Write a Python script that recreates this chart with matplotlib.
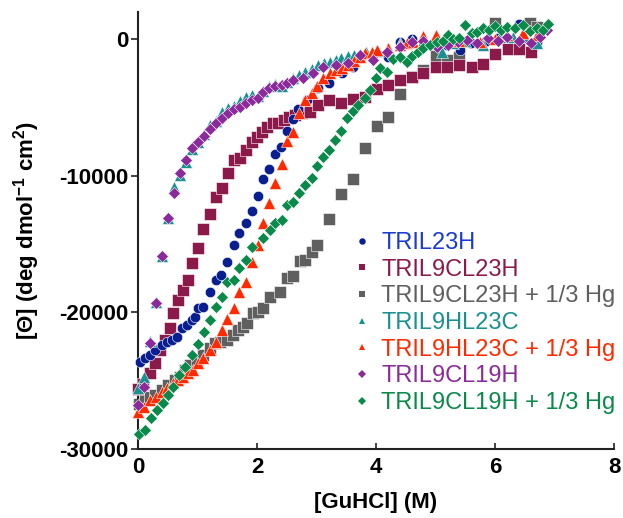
import matplotlib
matplotlib.use("Agg")
import matplotlib.pyplot as plt
from matplotlib.lines import Line2D

plt.rcParams['font.family'] = ['Liberation Sans', 'DejaVu Sans']
plt.rcParams['axes.unicode_minus'] = False
plt.rcParams['mathtext.fontset'] = 'custom'
plt.rcParams['mathtext.rm'] = 'Liberation Sans:bold'
plt.rcParams['mathtext.bf'] = 'Liberation Sans:bold'
plt.rcParams['mathtext.default'] = 'rm'

# ---------------- data ----------------
labels = ["TRIL23H", "TRIL9CL23H", "TRIL9CL23H + 1/3 Hg", "TRIL9HL23C",
          "TRIL9HL23C + 1/3 Hg", "TRIL9CL19H", "TRIL9CL19H + 1/3 Hg"]

x_a = [0.03,0.12,0.20,0.29,0.40,0.49,0.57,0.66,0.74,0.82,0.91,0.96,1.01,1.09,1.21,1.31,1.39,1.50,1.61,1.70,
       1.82,1.92,2.02,2.10,2.20,2.30,2.40,2.50,2.61,2.69,2.84,3.03,3.21,3.43,3.61,4.20,4.40,4.60,4.80,5.19,
       5.41,5.60,5.85,6.05,6.40,6.70]
y_a = [-23630,-23340,-23120,-22760,-22390,-22170,-22020,-21800,-21150,-20930,-20560,-20340,-19680,-19610,
       -18510,-17630,-17270,-16320,-15070,-14200,-13460,-12590,-11490,-10240,-9510,-8410,-7900,-6730,-5850,
       -5120,-4460,-3590,-3220,-2490,-2050,-1320,-200,0,-300,-440,-800,-300,-100,100,1100,-230]

x_b = [0.0,0.08,0.20,0.29,0.37,0.45,0.54,0.59,0.67,0.76,0.84,0.91,1.01,1.09,1.21,1.31,1.41,1.51,1.61,1.71,
       1.82,1.92,2.00,2.08,2.17,2.27,2.35,2.45,2.54,2.64,2.76,2.89,3.03,3.21,3.41,3.61,3.82,4.02,4.20,4.40,
       4.60,4.79,5.01,5.20,5.39,5.61,5.80,6.00,6.22,6.40,6.60]
y_b = [-25600,-25240,-24440,-23700,-22760,-22020,-21150,-20050,-19100,-18370,-17630,-16390,-15290,-13900,
       -12800,-11560,-10900,-9800,-8850,-8710,-8120,-7540,-7170,-6800,-6440,-6150,-6150,-5930,-5710,-5560,
       -5410,-5340,-4830,-4460,-4680,-4390,-4240,-3660,-3370,-3000,-2780,-2490,-2050,-2000,-1900,-2050,-1830,
       -1100,-730,-730,-950]

x_c = [0.02,0.12,0.20,0.29,0.40,0.50,0.62,0.71,0.79,0.87,0.99,1.09,1.21,1.29,1.38,1.50,1.60,1.68,1.76,1.83,
       1.93,2.02,2.10,2.22,2.39,2.50,2.61,2.72,2.81,2.92,3.00,3.21,3.41,3.61,3.82,4.02,4.20,4.40,4.60,4.79,
       5.01,5.19,5.39,6.00,6.59,6.70]
y_c = [-26700,-26410,-26190,-26040,-25680,-25320,-24950,-24730,-24220,-23850,-23490,-23120,-22610,-22240,
       -22170,-22020,-21660,-21290,-21070,-20780,-20050,-19970,-19680,-18880,-18510,-17490,-17340,-16240,
       -16170,-15580,-15070,-13170,-11340,-10240,-7980,-6370,-5710,-4020,-2780,-2270,-1240,-1540,-1320,1170,
       1170,880]

x_d = [0.0,0.10,0.20,0.30,0.40,0.50,0.61,0.71,0.81,0.91,1.01,1.11,1.21,1.31,1.41,1.51,1.61,1.71,1.82,1.92,
       2.02,2.10,2.20,2.30,2.42,2.50,2.61,2.71,2.81,2.92,3.02,3.12,3.22,3.32,3.42,3.53,3.63,3.73,3.83,3.93,
       4.03,4.20,4.40,4.60,4.79,5.11,5.30,5.50,5.80,6.08,6.30,6.50,6.70]
y_d = [-25530,-24730,-22100,-19250,-15900,-13050,-10850,-9900,-8950,-8000,-7500,-6950,-6250,-6000,-5300,
       -5050,-4900,-4550,-4250,-4050,-4150,-3750,-3450,-3250,-3450,-3100,-2800,-2600,-2400,-2200,-1900,-1750,
       -1650,-1550,-1400,-1250,-1150,-1050,-950,-900,-850,-650,-300,-150,-100,-950,-300,-100,-400,150,200,150,
       -300]

x_e = [0.0,0.10,0.20,0.30,0.40,0.49,0.59,0.67,0.76,0.84,0.92,1.01,1.09,1.21,1.31,1.41,1.50,1.61,1.70,1.82,
       1.92,2.02,2.10,2.20,2.30,2.42,2.50,2.61,2.71,2.81,2.92,3.01,3.11,3.23,3.33,3.43,3.53,3.63,3.73,3.82,
       3.93,4.02,4.20,4.40,4.52,4.62,4.79,5.01,5.21,5.40,5.75,6.00,6.20,6.47,6.70]
y_e = [-27300,-26930,-26410,-26190,-25830,-25540,-25170,-24950,-24730,-24440,-24220,-23710,-23340,-22760,
       -22170,-21290,-20490,-19680,-18510,-17780,-16320,-15070,-13460,-12000,-10540,-9150,-7460,-6800,-5410,
       -4460,-3950,-3440,-2850,-2490,-2270,-2120,-1900,-1600,-1320,-1020,-950,-800,-660,-440,-290,-220,220,
       290,-70,-100,-220,0,300,440,300]

x_f = [0.0,0.10,0.20,0.30,0.40,0.50,0.61,0.71,0.81,0.91,1.01,1.11,1.21,1.31,1.41,1.51,1.61,1.71,1.82,1.92,
       2.02,2.10,2.20,2.30,2.42,2.50,2.61,2.77,2.94,3.11,3.32,3.53,3.73,3.95,4.18,4.40,4.60,4.79,5.03,5.21,
       5.38,5.53,5.70,5.88,6.05,6.20,6.40,6.60,6.76,6.87]
y_f = [-26780,-25460,-22240,-19320,-15880,-13100,-11270,-9800,-8850,-7980,-7540,-7100,-6590,-6150,-5780,
       -5410,-5120,-4980,-4680,-4460,-4320,-3880,-3590,-3440,-3370,-3220,-3000,-2850,-2500,-2050,-1900,-1760,
       -1170,-1540,-950,-590,-220,-100,-590,-440,-220,-70,-300,70,-100,150,-100,-300,150,660]

x_g = [0.02,0.12,0.22,0.32,0.42,0.50,0.59,0.69,0.79,0.91,1.01,1.11,1.21,1.31,1.41,1.50,1.61,1.70,1.82,1.92,
       2.10,2.22,2.30,2.42,2.50,2.61,2.71,2.81,2.92,3.01,3.11,3.21,3.31,3.41,3.51,3.61,3.70,3.82,3.90,4.00,
       4.07,4.18,4.29,4.40,4.52,4.60,4.71,4.79,4.91,5.03,5.12,5.21,5.30,5.40,5.50,5.61,5.70,5.80,5.90,6.00,
       6.10,6.20,6.33,6.47,6.58,6.70,6.80,6.89]
y_g = [-28900,-28610,-27730,-27150,-26630,-26050,-25460,-24580,-24000,-23120,-22320,-21440,-20560,-19610,
       -18880,-17780,-17630,-16760,-16170,-15220,-14560,-13970,-13460,-13240,-12150,-11930,-11270,-10680,
       -10170,-9290,-8630,-8120,-7390,-6730,-5780,-5270,-4830,-4320,-3730,-2850,-2120,-2410,-1460,-1320,
       -1680,-1240,-950,-660,-440,-220,-100,290,0,100,1020,440,500,800,700,950,700,880,800,1020,600,800,700,
       1100]

xs = [x_a, x_b, x_c, x_d, x_e, x_f, x_g]
ys = [y_a, y_b, y_c, y_d, y_e, y_f, y_g]
colors = ['#0a1f8f', '#8b1a4b', '#5f5f5f', '#1a9090', '#ff2a00', '#8b2a9b', '#0a8a4a']
text_colors = ['#1a3ad0', '#8b1a4b', '#5f5f5f', '#1a9090', '#ff2a00', '#8b2a9b', '#0a8a4a']
markers = ['o', 's', 's', '^', '^', 'D', 'D']
msizes = [7.5, 8, 8, 8, 8, 6.5, 6.5]
zorders = [4, 3, 2, 5, 6, 7, 8]

fig = plt.figure(figsize=(6.23, 5.18), dpi=100)
ax = fig.add_axes([138/623, 1-449/518, 476/623, 437/518])

for x, y, c, m, s, z in zip(xs, ys, colors, markers, msizes, zorders):
    ax.plot(x, y, linestyle='none', marker=m, color=c, markersize=s,
            markeredgecolor='white', markeredgewidth=0.4, zorder=z, clip_on=False)

ax.set_xlim(0, 8)
ax.set_ylim(-30000, 2000)
ax.set_xticks([0, 2, 4, 6, 8])
ax.set_yticks([0, -10000, -20000, -30000])
for s in ['top', 'right']:
    ax.spines[s].set_visible(False)
for s in ['left', 'bottom']:
    ax.spines[s].set_linewidth(1.5)
    ax.spines[s].set_color('#222222')

ax.tick_params(axis='y', direction='out', length=5, width=1.2, labelsize=16, pad=2, color='#222222')
ax.tick_params(axis='x', direction='in', length=4, width=1.2, labelsize=16, pad=6, color='#222222')
for lab in ax.get_xticklabels() + ax.get_yticklabels():
    lab.set_fontweight('bold')

ax.set_xlabel('[GuHCl] (M)', fontsize=16, fontweight='bold', labelpad=10)
ax.set_ylabel(r'[Θ] (deg dmol$^{-1}$ cm$^{2}$)', fontsize=16, fontweight='bold', labelpad=12)

handles = [Line2D([], [], linestyle='none', marker=m, color=c, markersize=s * 0.62,
                  markeredgewidth=0)
           for c, m, s in zip(colors, markers, msizes)]
ax.legend(handles, labels, loc='upper left', bbox_to_anchor=(0.456, 0.497),
          frameon=False, fontsize=17, labelcolor=text_colors, handlelength=0.6,
          handletextpad=0.5, borderpad=0, borderaxespad=0, labelspacing=0.2)

fig.savefig('out.png', dpi=100)
